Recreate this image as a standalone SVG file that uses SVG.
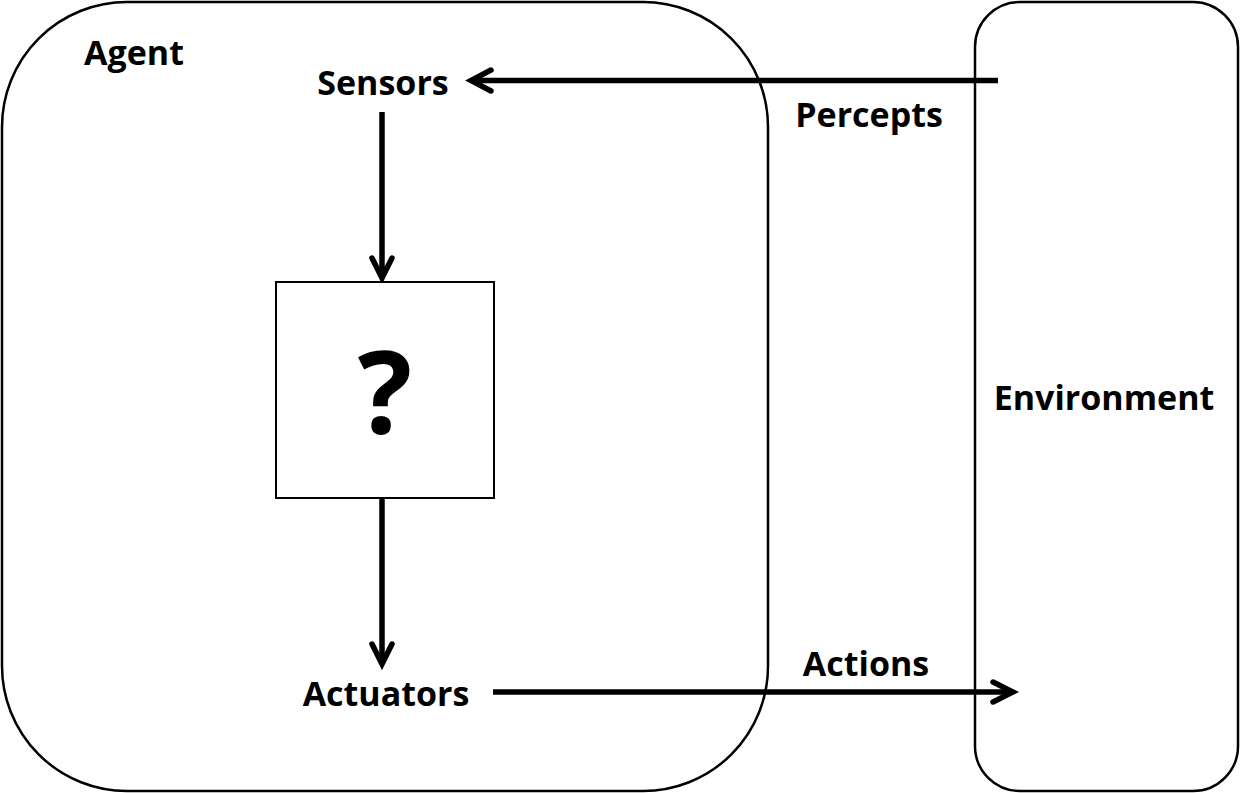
<svg xmlns="http://www.w3.org/2000/svg" width="1242" height="793" viewBox="0 0 1242 793">
<style>
.frame{fill:none;stroke:#000;stroke-width:2.5}
.box{fill:#fff;stroke:#000;stroke-width:2}
.lbl{font-family:"Open Sans","Noto Sans",sans-serif;font-weight:bold;font-size:34px;fill:#000;text-anchor:middle}
.conn{fill:none;stroke:#000;stroke-width:5.5}
.head{fill:none;stroke:#000;stroke-width:5.5;stroke-linecap:round;stroke-linejoin:miter}
</style>
<rect width="1242" height="793" fill="#fff"/>
<g id="agent">
<rect class="frame" x="2" y="2" width="766" height="789" rx="125" ry="125"/>
<text class="lbl" x="134" y="65">Agent</text>
</g>
<g id="environment">
<rect class="frame" x="975" y="2" width="263" height="789" rx="45" ry="45"/>
<text class="lbl" x="1104" y="410">Environment</text>
</g>
<g id="sensors">
<text class="lbl" x="383" y="95">Sensors</text>
</g>
<g id="actuators">
<text class="lbl" x="386" y="706">Actuators</text>
</g>
<g id="connectors">
<line class="conn" x1="998" y1="80.5" x2="472" y2="80.5"/>
<polyline class="head" points="491,70 471,80.5 491,91"/>
<line class="conn" x1="382" y1="112" x2="382" y2="278"/>
<polyline class="head" points="372,258 382,278 392,258"/>
<line class="conn" x1="382" y1="498" x2="382" y2="664"/>
<polyline class="head" points="372,644 382,664 392,644"/>
<line class="conn" x1="493" y1="692" x2="1013" y2="692"/>
<polyline class="head" points="993,682 1013,692 993,702"/>
<text class="lbl" x="869" y="127">Percepts</text>
<text class="lbl" x="866" y="676">Actions</text>
</g>
<g id="agentfunction">
<rect class="box" x="276" y="282" width="218" height="216"/>
<text class="lbl" x="385" y="433" style="font-size:114px">?</text>
</g>
</svg>
